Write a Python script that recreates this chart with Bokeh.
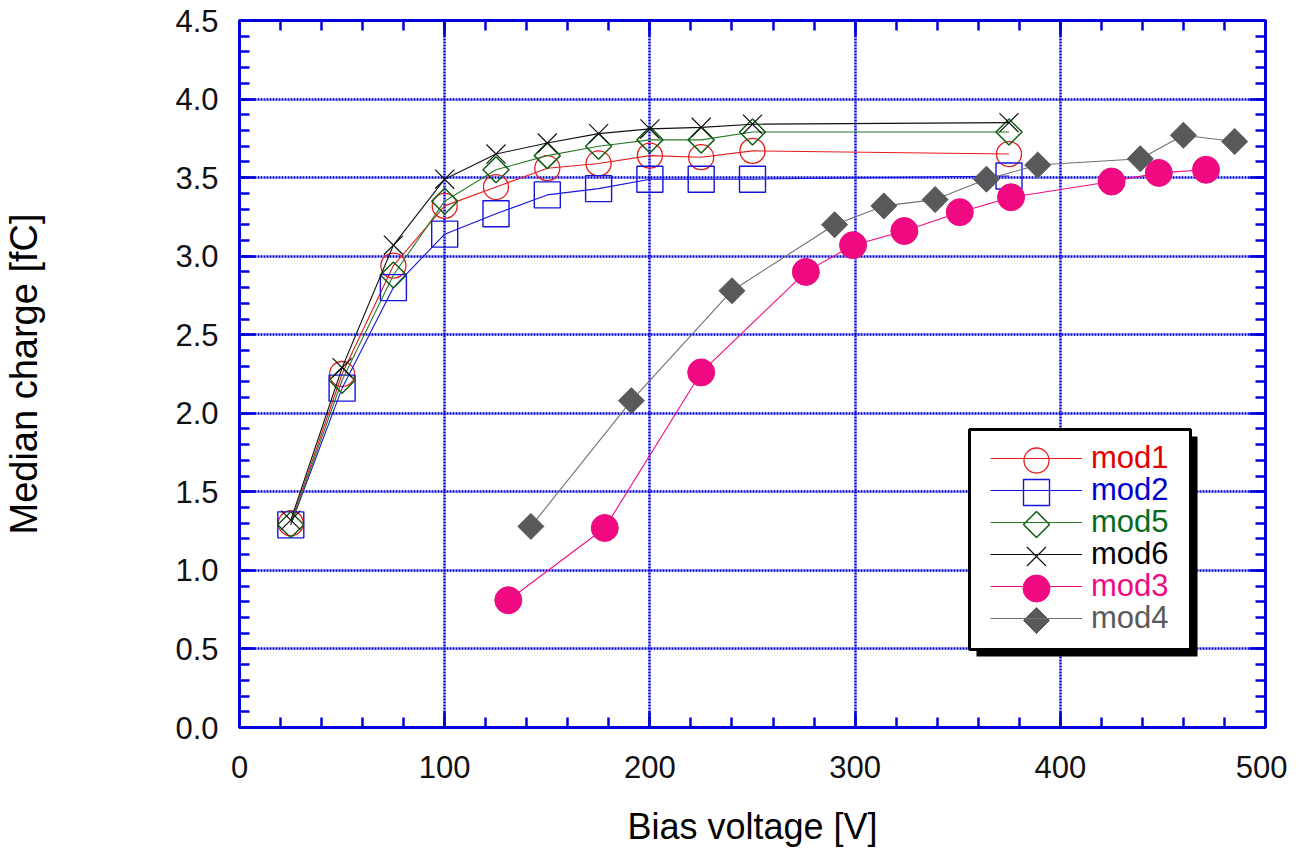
from bokeh.plotting import figure
from bokeh.models import (Range1d, SingleIntervalTicker, LinearAxis, PrintfTickFormatter,
                          Legend, LegendItem, BoxAnnotation, CustomLabelingPolicy)
from bokeh.embed import file_html
from bokeh.resources import INLINE
import math

# ---------------- data ----------------
volts_a = [25, 50, 75, 100, 125, 150, 175, 200, 225, 250, 375]
mod1 = [1.30, 2.25, 2.94, 3.32, 3.44, 3.56, 3.59, 3.64, 3.63, 3.67, 3.65]
mod2 = [1.29, 2.16, 2.80, 3.14, 3.27, 3.39, 3.43, 3.49, 3.49, 3.49, 3.51]
mod5 = [1.29, 2.21, 2.88, 3.35, 3.55, 3.64, 3.70, 3.74, 3.74, 3.79, 3.79]
mod6 = [1.32, 2.29, 3.07, 3.49, 3.65, 3.72, 3.78, 3.81, 3.82, 3.84, 3.85]

volts_mod3 = [131, 178, 225, 276, 299, 324, 351, 376, 425, 448, 471]
mod3 = [0.81, 1.27, 2.26, 2.90, 3.07, 3.16, 3.28, 3.375, 3.475, 3.53, 3.55]

volts_mod4 = [142, 191, 240, 290, 314, 339, 364, 389, 439, 460, 485]
mod4 = [1.28, 2.08, 2.78, 3.20, 3.32, 3.36, 3.49, 3.58, 3.62, 3.77, 3.73]

x_label = "Bias voltage [V]"
y_label = "Median charge [fC]"

# ---------------- style ----------------
FONT = "Liberation Sans"
AX_BLUE = "#0000dd"
RED = "#e41e1e"
BLUE = "#1414dc"
GREEN = "#0f5f14"
GREEN_LINE = "#2a7a2a"
BLACK = "#111111"
PINK = "#f00a82"
GRAY = "#58595b"
GRAY_LINE = "#707070"

FW, FH = 1026, 707
p = figure(frame_width=FW, frame_height=FH,
           x_range=Range1d(0, 500), y_range=Range1d(0, 4.5),
           output_backend="svg", toolbar_location=None,
           min_border_left=239, min_border_right=22, min_border_top=20, min_border_bottom=119,
           background_fill_color="white", border_fill_color="white")
# pixel-space ranges of the frame, used only to place the legend decoration
p.extra_x_ranges = {"px": Range1d(0, FW)}
p.extra_y_ranges = {"py": Range1d(0, FH)}

xt = SingleIntervalTicker(interval=100, num_minor_ticks=5)
yt = SingleIntervalTicker(interval=0.5, num_minor_ticks=5)

p.outline_line_color = AX_BLUE
p.outline_line_width = 3

no_labels = CustomLabelingPolicy(code="for (const i of indices) { if (i < 0) { yield i } }")


def style_axis(ax, labels=True):
    ax.axis_line_color = AX_BLUE
    ax.axis_line_width = 3
    ax.major_tick_line_color = AX_BLUE
    ax.minor_tick_line_color = AX_BLUE
    ax.major_tick_line_width = 2.5
    ax.minor_tick_line_width = 2.5
    ax.major_tick_in = 16
    ax.major_tick_out = 0
    ax.minor_tick_in = 10
    ax.minor_tick_out = 0
    ax.major_label_text_font = FONT
    ax.major_label_text_font_size = "31px"
    ax.major_label_text_color = "#111111"
    ax.axis_label_text_font = FONT
    ax.axis_label_text_font_style = "normal"
    ax.axis_label_text_color = "#000000"
    if not labels:
        ax.major_label_policy = no_labels
        ax.major_label_text_font_size = "2px"
        ax.major_label_standoff = 0
        ax.axis_label = None


xa = p.xaxis[0]
xa.ticker = xt
style_axis(xa)
xa.axis_label = x_label
xa.axis_label_text_font_size = "36px"
xa.major_label_standoff = 28
xa.axis_label_standoff = 25

ya = p.yaxis[0]
ya.ticker = yt
ya.formatter = PrintfTickFormatter(format="%.1f")
style_axis(ya)
ya.axis_label = y_label
ya.axis_label_text_font_size = "38px"
ya.major_label_standoff = 21
ya.axis_label_standoff = 127

top_ax = LinearAxis(ticker=xt)
style_axis(top_ax, labels=False)
p.add_layout(top_ax, "above")
right_ax = LinearAxis(ticker=yt)
style_axis(right_ax, labels=False)
p.add_layout(right_ax, "right")

for g, t in ((p.xgrid[0], xt), (p.ygrid[0], yt)):
    g.ticker = t
    g.grid_line_color = AX_BLUE
    g.grid_line_width = 2.5
    g.grid_line_dash = "2 1"

# ---------------- series ----------------
series = [
    ("mod1", volts_a, mod1, RED, dict(marker="circle", size=25, line_color=RED, line_width=1.3), False, "#e00000"),
    ("mod2", volts_a, mod2, BLUE, dict(marker="square", size=26, line_color=BLUE, line_width=1.4), False, "#0000cc"),
    ("mod5", volts_a, mod5, GREEN_LINE, dict(marker="square", size=18.4, angle=math.pi / 4, line_color=GREEN, line_width=1.5), False, "#086a1c"),
    ("mod6", volts_a, mod6, BLACK, dict(marker="x", size=27, line_color=BLACK, line_width=1.2), False, "#000000"),
    ("mod3", volts_mod3, mod3, PINK, dict(marker="circle", size=27, line_color=PINK, line_width=1), True, PINK),
    ("mod4", volts_mod4, mod4, GRAY_LINE, dict(marker="square", size=18.4, angle=math.pi / 4, line_color=GRAY, line_width=1), True, "#5a5a5a"),
]

# ---------------- legend box with shadow ----------------
BOX_L, BOX_R, BOX_T, BOX_B = 730, 951, 298, 78
SH = 7
p.add_layout(BoxAnnotation(left=BOX_L + SH, right=BOX_R + SH, top=BOX_T - SH, bottom=BOX_B - SH,
                           left_units="screen", right_units="screen", top_units="screen", bottom_units="screen",
                           fill_color="black", fill_alpha=1, line_alpha=0))
p.add_layout(BoxAnnotation(left=BOX_L, right=BOX_R, top=BOX_T, bottom=BOX_B,
                           left_units="screen", right_units="screen", top_units="screen", bottom_units="screen",
                           fill_color="white", fill_alpha=1, line_color="black", line_width=3, line_alpha=1))

LEG_X = 751
GLYPH_W = 92
ROW0 = 267
ROW_STEP = 32
ROW_H = 32

for i, (name, xs, ys, lc, mk, filled, tc) in enumerate(series):
    lr = p.line(xs, ys, line_color=lc, line_width=1.1)
    fill = dict(fill_color=mk["line_color"], fill_alpha=1) if filled else dict(fill_alpha=0)
    p.scatter(xs, ys, **mk, **fill)

    cy = ROW0 - i * ROW_STEP
    leg = Legend(items=[LegendItem(label=name, renderers=[lr])],
                 location=(LEG_X, cy - ROW_H / 2), glyph_width=GLYPH_W, glyph_height=ROW_H,
                 label_height=ROW_H, padding=0, margin=0, spacing=0, label_standoff=9,
                 background_fill_alpha=0, border_line_alpha=0,
                 label_text_color=tc, label_text_font=FONT, label_text_font_size="31px")
    p.add_layout(leg)
    # legend sample marker (white-filled when open), drawn above the legend line
    lfill = dict(fill_color=mk["line_color"], fill_alpha=1) if filled else dict(fill_color="white", fill_alpha=1)
    p.scatter([LEG_X + GLYPH_W / 2], [cy], x_range_name="px", y_range_name="py",
              level="overlay", **mk, **lfill)

open("out.html", "w").write(file_html(p, INLINE))
